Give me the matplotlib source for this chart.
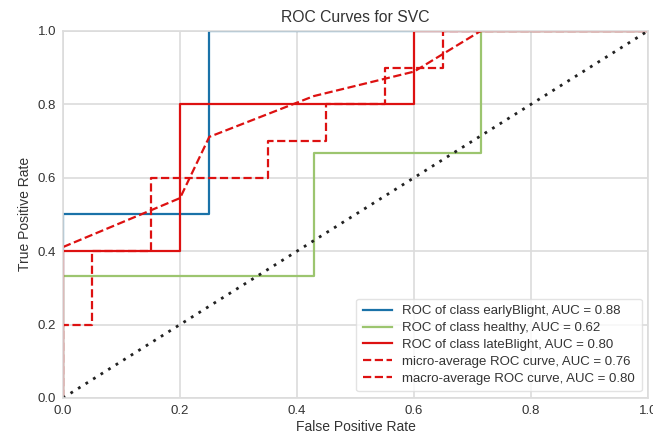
import matplotlib
matplotlib.use("Agg")
import matplotlib.pyplot as plt

# per-class ROC curves (fpr, tpr)
early_fpr = [0.0, 0.0, 0.25, 0.25, 1.0]
early_tpr = [0.0, 0.5, 0.5, 1.0, 1.0]

healthy_fpr = [0.0, 0.0, 0.4286, 0.4286, 0.7143, 0.7143, 1.0]
healthy_tpr = [0.0, 0.3333, 0.3333, 0.6667, 0.6667, 1.0, 1.0]

late_fpr = [0.0, 0.0, 0.2, 0.2, 0.6, 0.6, 1.0]
late_tpr = [0.0, 0.4, 0.4, 0.8, 0.8, 1.0, 1.0]

micro_fpr = [0.0, 0.0, 0.05, 0.05, 0.15, 0.15, 0.35, 0.35, 0.45, 0.45,
             0.55, 0.55, 0.65, 0.65, 1.0]
micro_tpr = [0.0, 0.2, 0.2, 0.4, 0.4, 0.6, 0.6, 0.7, 0.7, 0.8,
             0.8, 0.9, 0.9, 1.0, 1.0]

macro_fpr = [0.0, 0.2, 0.25, 0.4286, 0.6, 0.7143, 1.0]
macro_tpr = [0.4111, 0.5444, 0.7111, 0.8222, 0.8889, 1.0, 1.0]

labels = ["ROC of class earlyBlight, AUC = 0.88",
          "ROC of class healthy, AUC = 0.62",
          "ROC of class lateBlight, AUC = 0.80",
          "micro-average ROC curve, AUC = 0.76",
          "macro-average ROC curve, AUC = 0.80"]

plt.rcParams['font.family'] = ['Liberation Sans', 'DejaVu Sans']

fig = plt.figure(figsize=(6.53, 4.34), dpi=100)
ax = fig.add_axes([0.0965, 0.083, 0.896, 0.846])

grid_c = "#dcdcdc"
ax.grid(True, color=grid_c, linewidth=1.2)
ax.set_axisbelow(True)
for s in ax.spines.values():
    s.set_color(grid_c)
    s.set_linewidth(1.2)

ax.plot(early_fpr, early_tpr, color="#1a72a8", lw=1.6, label=labels[0])
ax.plot(healthy_fpr, healthy_tpr, color="#9cc56f", lw=1.6, label=labels[1])
ax.plot(late_fpr, late_tpr, color="#dd1111", lw=1.6, label=labels[2])
ax.plot(micro_fpr, micro_tpr, color="#dd1111", lw=1.6, ls="--", label=labels[3])
ax.plot(macro_fpr, macro_tpr, color="#dd1111", lw=1.6, ls="--", label=labels[4])
ax.plot([0, 1], [0, 1], color="#222222", ls=(0, (1, 2.2)), lw=2)

ax.set_xlim(0, 1)
ax.set_ylim(0, 1)
ax.set_xticks([0, 0.2, 0.4, 0.6, 0.8, 1.0])
ax.set_yticks([0, 0.2, 0.4, 0.6, 0.8, 1.0])
ax.tick_params(length=0, labelsize=9.5, labelcolor="#333333", pad=5)

ax.set_title("ROC Curves for SVC", fontsize=11.3, color="#333333")
ax.set_xlabel("False Positive Rate", fontsize=10, color="#333333", labelpad=2)
ax.set_ylabel("True Positive Rate", fontsize=10, color="#333333")

leg = ax.legend(loc="lower right", fontsize=9.5, frameon=True, framealpha=0.8,
                handlelength=2.2, borderpad=0.5, labelspacing=0.35)
leg.get_frame().set_edgecolor(grid_c)
for t in leg.get_texts():
    t.set_color("#333333")

fig.savefig("out.png", dpi=100)
